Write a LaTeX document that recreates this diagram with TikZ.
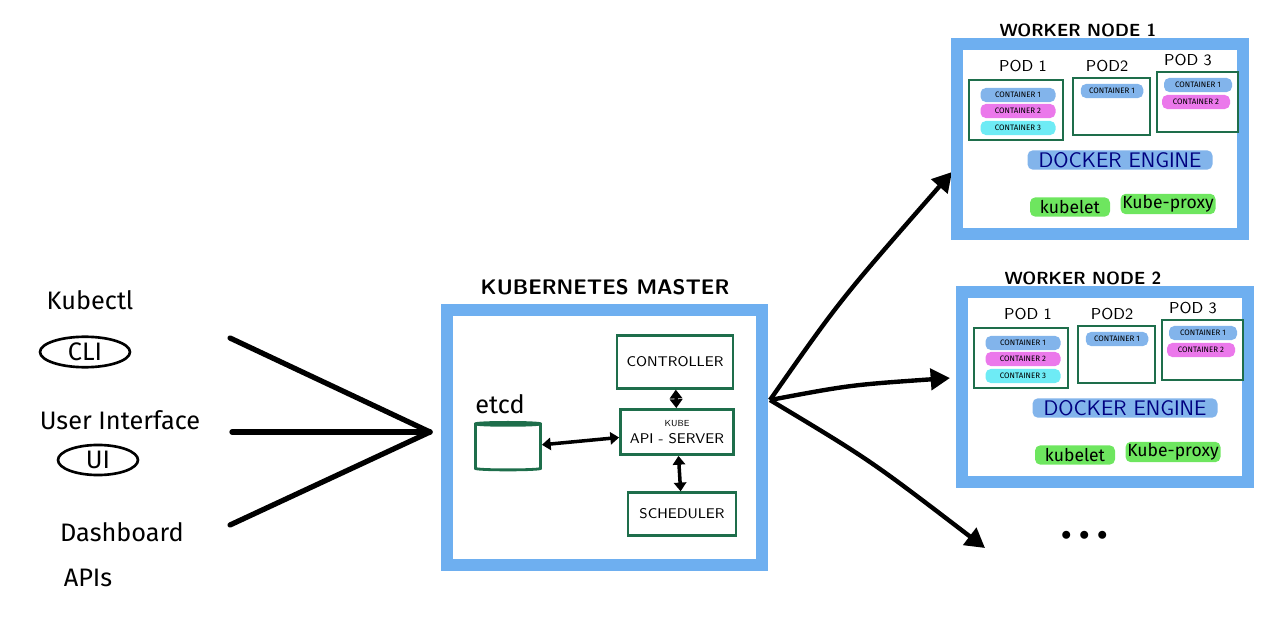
\documentclass[tikz,border=0pt]{standalone}
\usepackage{fontspec}
\setmainfont{Fira Sans}
\usetikzlibrary{arrows.meta,shapes.geometric}

\definecolor{frameblue}{RGB}{110,175,240}
\definecolor{boxgreen}{RGB}{30,110,75}
\definecolor{pillblue}{RGB}{130,180,235}
\definecolor{pillpink}{RGB}{235,120,235}
\definecolor{pillcyan}{RGB}{110,235,245}
\definecolor{pillgreen}{RGB}{110,230,95}

\tikzset{
  frame/.style={draw=frameblue, line width=6.5pt, line cap=round},
  comp/.style={draw=boxgreen, line width=1.6pt, font=\sffamily\footnotesize, align=center},
  pod/.style={draw=boxgreen, line width=1.4pt},
  pill/.style={fill=#1, rounded corners=3pt, font=\fontsize{4.5}{5}\selectfont, inner sep=1pt, minimum height=8pt},
  link/.style={line width=2.5pt, -{Triangle[length=11pt,width=12pt]}},
  both/.style={line width=2pt, {Triangle[length=5pt,width=7pt]}-{Triangle[length=5pt,width=7pt]}},
  title/.style={font=\sffamily\bfseries\large},
}

\begin{document}
\begin{tikzpicture}[x=0.02cm, y=-0.02cm]
\useasboundingbox (0,0) rectangle (1280,638);

% clients
\node[font=\Large] (kubectl) at (90,300) {Kubectl};
\node[draw, ellipse, line width=1.5pt, minimum width=1.8cm, inner sep=1pt, font=\Large] (cli) at (85,352) {CLI};
\node[font=\Large] (userui) at (120,420) {User Interface};
\node[draw, ellipse, line width=1.5pt, minimum width=1.6cm, inner sep=1pt, font=\Large] (ui) at (98,460) {UI};
\node[font=\Large] (dash) at (122,532) {Dashboard};
\node[font=\Large] (apis) at (88,578) {APIs};

\coordinate (c1) at (230,338);
\coordinate (c2) at (232,432);
\coordinate (c3) at (230,525);
\coordinate (meet) at (430,432);
\draw[line width=3pt, line cap=round] (c1) -- (meet);
\draw[line width=3pt, line cap=round] (c2) -- (meet);
\draw[line width=3pt, line cap=round] (c3) -- (meet);

% master
\draw[frame] (447,310) rectangle (762,565);
\node[title] (mtitle) at (605,287) {KUBERNETES MASTER};
\node[comp, minimum width=2.32cm, minimum height=1.05cm] (ctrl) at (675,362) {CONTROLLER};
\node[comp, minimum width=2.26cm, minimum height=0.9cm, inner sep=1pt] (api) at (677,432) {{\tiny KUBE}\\API - SERVER};
\node[comp, minimum width=2.16cm, minimum height=0.85cm] (sched) at (682,514) {SCHEDULER};
\node[draw=boxgreen, line width=1.6pt, cylinder, shape border rotate=90, aspect=0.25,
      minimum width=1.3cm, minimum height=0.95cm] (etcd) at (508,448) {};
\node[font=\Large] (etcdlbl) at (500,404) {etcd};
\draw[both] (ctrl) -- (api);
\draw[both] (api) -- (sched);
\draw[both] (etcd) -- (api);

% to the workers
\coordinate (out) at (770,400);
\coordinate (w1in) at (952,172);
\coordinate (w2in) at (950,378);
\coordinate (w3in) at (985,548);
\draw[link] (out) .. controls (840,300) .. (w1in);
\draw[link] (out) .. controls (850,385) .. (w2in);
\draw[link] (out) .. controls (870,460) .. (w3in);
\node[font=\Huge\bfseries] (more) at (1085,535) {.\,.\,.};

% worker nodes
\foreach \dx/\dy/\n in {0/0/1, 5/248/2} {
  \begin{scope}[shift={(\dx,\dy)}]
    \draw[frame] (957,44) rectangle (1243,234);
    \node[title, font=\sffamily\bfseries] at (1078,30) {WORKER NODE \n};
    \node[font=\sffamily\small] at (1023,66) {POD 1};
    \node[font=\sffamily\small] at (1107,66) {POD2};
    \node[font=\sffamily\small] at (1188,60) {POD 3};
    \draw[pod] (969,80) rectangle (1063,140);
    \draw[pod] (1073,78) rectangle (1150,135);
    \draw[pod] (1157,72) rectangle (1238,132);
    \node[pill=pillblue, minimum width=1.5cm] at (1018,95) {CONTAINER 1};
    \node[pill=pillpink, minimum width=1.5cm] at (1018,111) {CONTAINER 2};
    \node[pill=pillcyan, minimum width=1.5cm] at (1018,128) {CONTAINER 3};
    \node[pill=pillblue, minimum width=1.25cm] at (1112,91) {CONTAINER 1};
    \node[pill=pillblue, minimum width=1.36cm] at (1198,85) {CONTAINER 1};
    \node[pill=pillpink, minimum width=1.36cm] at (1196,102) {CONTAINER 2};
    \node[pill=pillblue, font=\sffamily\large, minimum width=3.7cm, minimum height=11pt,
          text=blue!50!black] at (1120,160) {DOCKER ENGINE};
    \node[pill=pillgreen, font=\normalsize, minimum width=1.6cm, minimum height=11pt] at (1070,207) {kubelet};
    \node[pill=pillgreen, font=\normalsize, minimum width=1.9cm, minimum height=11pt] at (1168,204) {Kube-proxy};
  \end{scope}
}
\end{tikzpicture}
\end{document}
